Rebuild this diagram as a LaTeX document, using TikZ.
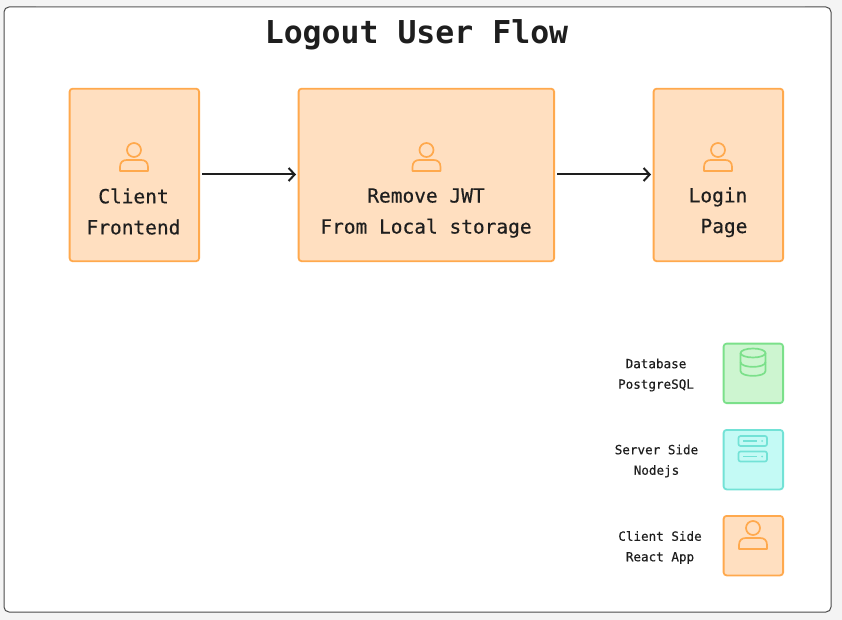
\documentclass[tikz,border=0pt]{standalone}
\usepackage{fontspec}
\setmainfont[FakeBold=0.35]{DejaVu Sans Mono}
\newfontfamily\titlefont[BoldFont={DejaVu Sans Mono Bold}]{DejaVu Sans Mono}
\usetikzlibrary{arrows.meta}
\definecolor{pagebg}{HTML}{F4F4F4}
\definecolor{ink}{HTML}{1E1E1E}
\definecolor{orangeline}{HTML}{FFA94D}
\definecolor{orangefill}{HTML}{FFDFC0}
\definecolor{greenline}{HTML}{7BE08A}
\definecolor{greenfill}{HTML}{CDF5D0}
\definecolor{tealline}{HTML}{72E2D6}
\definecolor{tealfill}{HTML}{C4FAF5}
\tikzset{
  x=1pt,y=-1pt,
  box/.style={draw,line width=1.8pt,rounded corners=3pt,minimum width=#1,inner sep=0pt,anchor=north west},
  orangebox/.style={box=#1,draw=orangeline,fill=orangefill},
  greenbox/.style={box=#1,draw=greenline,fill=greenfill},
  tealbox/.style={box=#1,draw=tealline,fill=tealfill},
  biglabel/.style={font=\fontsize{19.5}{31}\selectfont,text=ink,align=center,inner sep=0pt},
  smalllabel/.style={font=\fontsize{12.6}{20.5}\selectfont,text=ink,align=center,inner sep=0pt},
  flow/.style={draw=ink,line width=2pt,-{Straight Barb[length=6pt,width=13pt,line width=2pt]}},
  iconline/.style={line width=1.7pt,line join=round,fill=none},
}
\newcommand{\usericon}[3]{% x, y (centre of head), colour
  \begin{scope}[shift={(#1,#2)}]
    \draw[iconline,draw=#3] (0,0) circle (7pt);
    \draw[iconline,draw=#3] (-14,21) -- (-14,17) .. controls (-14,12) and (-11,10) .. (-7,10) -- (7,10) .. controls (11,10) and (14,12) .. (14,17) -- (14,21) -- cycle;
  \end{scope}}
\begin{document}
\begin{tikzpicture}
\useasboundingbox (0,0) rectangle (842,620);
\fill[pagebg] (0,0) rectangle (842,620);
\node[draw=ink!80,fill=white,line width=1pt,rounded corners=5pt,minimum width=827pt,minimum height=605pt,inner sep=0pt,anchor=north west] (frame) at (3.5,6.5) {};
\draw[gray!85,line width=1pt] (36,6.5) -- (805,6.5);
\node[font=\titlefont\fontsize{31.5}{36}\selectfont\bfseries,text=ink,inner sep=0pt] (title) at (416.5,35) {Logout User Flow};

\node[orangebox=129.5pt,minimum height=172.5pt] (client) at (68.7,87.8) {};
\node[orangebox=255.5pt,minimum height=172.5pt] (jwt) at (297.7,87.8) {};
\node[orangebox=129.5pt,minimum height=172.5pt] (login) at (652.7,87.8) {};

\usericon{134}{150}{orangeline}
\usericon{426.5}{150}{orangeline}
\usericon{718}{150}{orangeline}

\node[biglabel] (clientt) at (133.5,211.5) {Client\\Frontend};
\node[biglabel] (jwtt) at (426,213) {Remove JWT\\From Local storage};
\node[biglabel] (logint) at (718,197) {Login};
\node[biglabel] (paget) at (724,228) {Page};

\coordinate (a1) at (202,174.5);
\coordinate (a2) at (296,174.5);
\coordinate (b1) at (557,174.5);
\coordinate (b2) at (651,174.5);
\draw[flow] (a1) -- (a2);
\draw[flow] (b1) -- (b2);

\node[greenbox=59.5pt,minimum height=59.5pt] (dbbox) at (722.7,342.7) {};
\node[tealbox=59.5pt,minimum height=59.5pt] (srvbox) at (722.7,429) {};
\node[orangebox=59.5pt,minimum height=59.5pt] (clbox) at (722.7,515) {};

% database icon
\draw[iconline,draw=greenline] (740.5,353) -- (740.5,371) .. controls (740.5,377.5) and (765.5,377.5) .. (765.5,371) -- (765.5,353);
\draw[iconline,draw=greenline] (753,353) ellipse (12.5pt and 4.5pt);
\draw[iconline,draw=greenline] (740.5,362) .. controls (740.5,368.5) and (765.5,368.5) .. (765.5,362);
% server icon
\draw[iconline,draw=tealline,rounded corners=2pt] (738.5,436) rectangle (767,446);
\draw[iconline,draw=tealline,rounded corners=2pt] (738.5,451.5) rectangle (767,461.5);
\draw[iconline,draw=tealline] (743,441) -- (757,441) (743,456.5) -- (757,456.5);
\fill[tealline] (762,441) circle (1pt) (762,456.5) circle (1pt);
% legend user icon
\usericon{753}{528}{orangeline}

\node[smalllabel] (dbt) at (656,375) {Database\\PostgreSQL};
\node[smalllabel] (srvt) at (656.5,461) {Server Side\\Nodejs};
\node[smalllabel] (clt) at (660,547.5) {Client Side\\React App};
\end{tikzpicture}
\end{document}
